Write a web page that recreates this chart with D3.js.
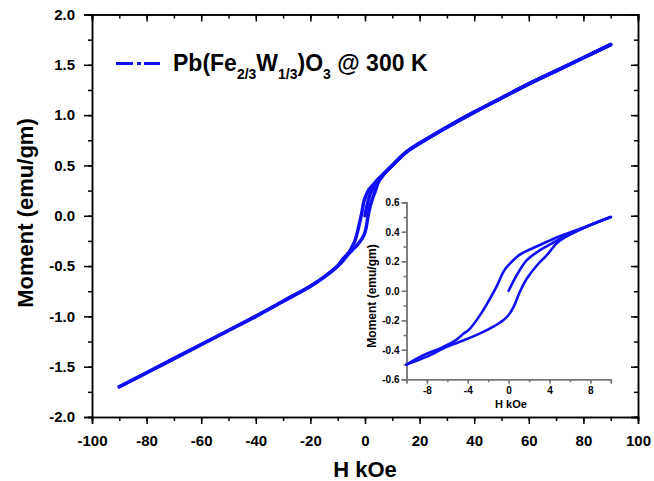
<!DOCTYPE html>
<html>
<head>
<meta charset="utf-8">
<script src="https://cdn.jsdelivr.net/npm/d3@7"></script>
<style>
  body { margin: 0; background: #fff; }
  svg { display: block; }
  text { font-family: Arial, "Liberation Sans", sans-serif; font-weight: bold; fill: #000; }
</style>
</head>
<body>
<svg id="chart" width="654" height="481"></svg>
<script>
// ---- data (H in kOe, moment in emu/gm) ----
// descending branch: +90 -> -90
var descH = [90, 80, 70, 60, 50, 40, 30, 20, 15, 10, 8, 6, 5, 4, 2.4, 1.1, 0, -0.5, -1.1, -1.8, -2.8, -3.9, -4.4, -5.4, -6.7, -8.3, -10, -15, -20, -30, -40, -50, -60, -70, -80, -90];
var descM = [1.70, 1.57, 1.44, 1.31, 1.17, 1.03, 0.88, 0.72, 0.63, 0.50, 0.446, 0.395, 0.37, 0.34, 0.29, 0.245, 0.175, 0.13, 0.04, -0.05, -0.165, -0.265, -0.29, -0.345, -0.39, -0.435, -0.50, -0.61, -0.70, -0.85, -1.00, -1.14, -1.28, -1.42, -1.56, -1.70];
// ascending branch: -90 -> +90
var ascH = [-90, -80, -70, -60, -50, -40, -30, -20, -15, -10, -8, -6, -4.1, -2.8, -1.5, -0.5, 0, 0.5, 1.1, 1.8, 2.8, 3.6, 4.1, 4.7, 5.5, 6.5, 8, 10, 15, 20, 30, 40, 50, 60, 70, 80, 90];
var ascM = [-1.70, -1.56, -1.42, -1.28, -1.14, -1.00, -0.85, -0.70, -0.61, -0.50, -0.446, -0.378, -0.327, -0.289, -0.243, -0.198, -0.164, -0.107, -0.006, 0.085, 0.175, 0.232, 0.272, 0.322, 0.362, 0.398, 0.446, 0.50, 0.63, 0.72, 0.88, 1.03, 1.17, 1.31, 1.44, 1.57, 1.70];
// virgin curve: 0 -> +90
var virgH = [0, 0.8, 1.8, 3.1, 4.1, 5.0, 6.3, 8, 10, 15, 20, 30, 40, 50, 60, 70, 80, 90];
var virgM = [0, 0.107, 0.209, 0.277, 0.316, 0.352, 0.395, 0.446, 0.50, 0.63, 0.72, 0.88, 1.03, 1.17, 1.31, 1.44, 1.57, 1.70];

var xTicks = [-100, -80, -60, -40, -20, 0, 20, 40, 60, 80, 100];
var yTicks = [-2.0, -1.5, -1.0, -0.5, 0.0, 0.5, 1.0, 1.5, 2.0];
var insetXTicks = [-8, -4, 0, 4, 8];
var insetYTicks = [-0.6, -0.4, -0.2, 0.0, 0.2, 0.4, 0.6];

var lineColor = "#1010f5";
var svg = d3.select("#chart");

function zip(hs, ms) { return hs.map(function(h, i) { return [h, ms[i]]; }); }
var branches = [zip(descH, descM), zip(ascH, ascM), zip(virgH, virgM)];

// ---- main plot ----
var x = d3.scaleLinear().domain([-100, 100]).range([92, 638]);
var y = d3.scaleLinear().domain([-2, 2]).range([417, 14.5]);

var xMinor = d3.range(-100, 101, 10);
var yMinor = d3.range(-2, 2.01, 0.25);

function styleAxis(g, color, width) {
  g.select(".domain").attr("stroke", color).attr("stroke-width", width);
  g.selectAll(".tick line").attr("stroke", color).attr("stroke-width", width);
}

// minor ticks
svg.append("g").attr("transform", "translate(0,417)")
  .call(d3.axisBottom(x).tickValues(xMinor).tickSize(4).tickFormat(""))
  .call(styleAxis, "#000", 1.5);
svg.append("g").attr("transform", "translate(92,0)")
  .call(d3.axisLeft(y).tickValues(yMinor).tickSize(4).tickFormat(""))
  .call(styleAxis, "#000", 1.5);
svg.append("g").attr("transform", "translate(0,14.5)")
  .call(d3.axisBottom(x).tickValues(xMinor).tickSize(4).tickFormat(""))
  .call(styleAxis, "#000", 1.5);
svg.append("g").attr("transform", "translate(638,0)")
  .call(d3.axisLeft(y).tickValues(yMinor).tickSize(4).tickFormat(""))
  .call(styleAxis, "#000", 1.5);

// major ticks
var gx = svg.append("g").attr("transform", "translate(0,417)")
  .call(d3.axisBottom(x).tickValues(xTicks).tickSize(7).tickPadding(11).tickFormat(function(d) { return String(d); }))
  .call(styleAxis, "#000", 1.5);
gx.selectAll("text").style("font-size", "15px");

var gy = svg.append("g").attr("transform", "translate(92,0)")
  .call(d3.axisLeft(y).tickValues(yTicks).tickSize(8).tickPadding(9).tickFormat(function(d) { return d.toFixed(1); }))
  .call(styleAxis, "#000", 1.5);
gy.selectAll("text").style("font-size", "15px");

// top / right mirror ticks point inward
svg.append("g").attr("transform", "translate(0,14.5)")
  .call(d3.axisBottom(x).tickValues(xTicks).tickSize(7).tickFormat(""))
  .call(styleAxis, "#000", 1.5);
svg.append("g").attr("transform", "translate(638,0)")
  .call(d3.axisLeft(y).tickValues(yTicks).tickSize(7).tickFormat(""))
  .call(styleAxis, "#000", 1.5);

var line = d3.line().x(function(d) { return x(d[0]); }).y(function(d) { return y(d[1]); })
  .curve(d3.curveCatmullRom.alpha(0.5));

svg.append("g").selectAll("path").data(branches).enter().append("path")
  .attr("d", line).attr("fill", "none").attr("stroke", lineColor)
  .attr("stroke-width", 3.5).attr("stroke-linejoin", "round").attr("stroke-linecap", "round");

// axis titles
svg.append("text").attr("x", 365).attr("y", 477).attr("text-anchor", "middle")
  .style("font-size", "22px").text("H kOe");
svg.append("text").attr("transform", "translate(33,213) rotate(-90)").attr("text-anchor", "middle")
  .style("font-size", "22px").text("Moment (emu/gm)");

// legend
svg.append("line").attr("x1", 116).attr("x2", 160).attr("y1", 63.5).attr("y2", 63.5)
  .attr("stroke", lineColor).attr("stroke-width", 3).attr("stroke-dasharray", "17,4,4,3,16");
var leg = svg.append("text").attr("x", 173).attr("y", 71).style("font-size", "23px");
leg.append("tspan").text("Pb(Fe");
leg.append("tspan").attr("dy", 8).style("font-size", "14px").text("2/3");
leg.append("tspan").attr("dy", -8).text("W");
leg.append("tspan").attr("dy", 8).style("font-size", "14px").text("1/3");
leg.append("tspan").attr("dy", -8).text(")O");
leg.append("tspan").attr("dy", 8).style("font-size", "14px").text("3");
leg.append("tspan").attr("dy", -8).text(" @ 300 K");

// ---- inset ----
var xi = d3.scaleLinear().domain([-10, 10]).range([406.5, 610.8]);
var yi = d3.scaleLinear().domain([-0.6, 0.6]).range([379.3, 202.3]);
var insetColor = "#777";

svg.append("g").attr("transform", "translate(0,379.3)")
  .call(d3.axisBottom(xi).tickValues(d3.range(-10, 10.01, 2)).tickSize(3).tickFormat(""))
  .call(styleAxis, insetColor, 1.5);
svg.append("g").attr("transform", "translate(406.5,0)")
  .call(d3.axisLeft(yi).tickValues(d3.range(-0.6, 0.61, 0.1)).tickSize(3).tickFormat(""))
  .call(styleAxis, insetColor, 1.5);

var gxi = svg.append("g").attr("transform", "translate(0,379.3)")
  .call(d3.axisBottom(xi).tickValues(insetXTicks).tickSize(4.5).tickPadding(3.5).tickFormat(function(d) { return String(d); }))
  .call(styleAxis, insetColor, 1.5);
gxi.selectAll("text").style("font-size", "10px");
var gyi = svg.append("g").attr("transform", "translate(406.5,0)")
  .call(d3.axisLeft(yi).tickValues(insetYTicks).tickSize(5).tickPadding(2).tickFormat(function(d) { return d.toFixed(1); }))
  .call(styleAxis, insetColor, 1.5);
gyi.selectAll("text").style("font-size", "10px");

var lineI = d3.line().x(function(d) { return xi(d[0]); }).y(function(d) { return yi(d[1]); })
  .curve(d3.curveCatmullRom.alpha(0.5));
svg.append("g").selectAll("path")
  .data(branches.map(function(b) { return b.filter(function(d) { return Math.abs(d[0]) <= 10; }); }))
  .enter().append("path")
  .attr("d", lineI).attr("fill", "none").attr("stroke", lineColor)
  .attr("stroke-width", 2.6).attr("stroke-linejoin", "round").attr("stroke-linecap", "round");

svg.append("text").attr("x", 511).attr("y", 408).attr("text-anchor", "middle")
  .style("font-size", "11px").text("H kOe");
svg.append("text").attr("transform", "translate(375.5,296) rotate(-90)").attr("text-anchor", "middle")
  .style("font-size", "12px").text("Moment (emu/gm)");
</script>
</body>
</html>
